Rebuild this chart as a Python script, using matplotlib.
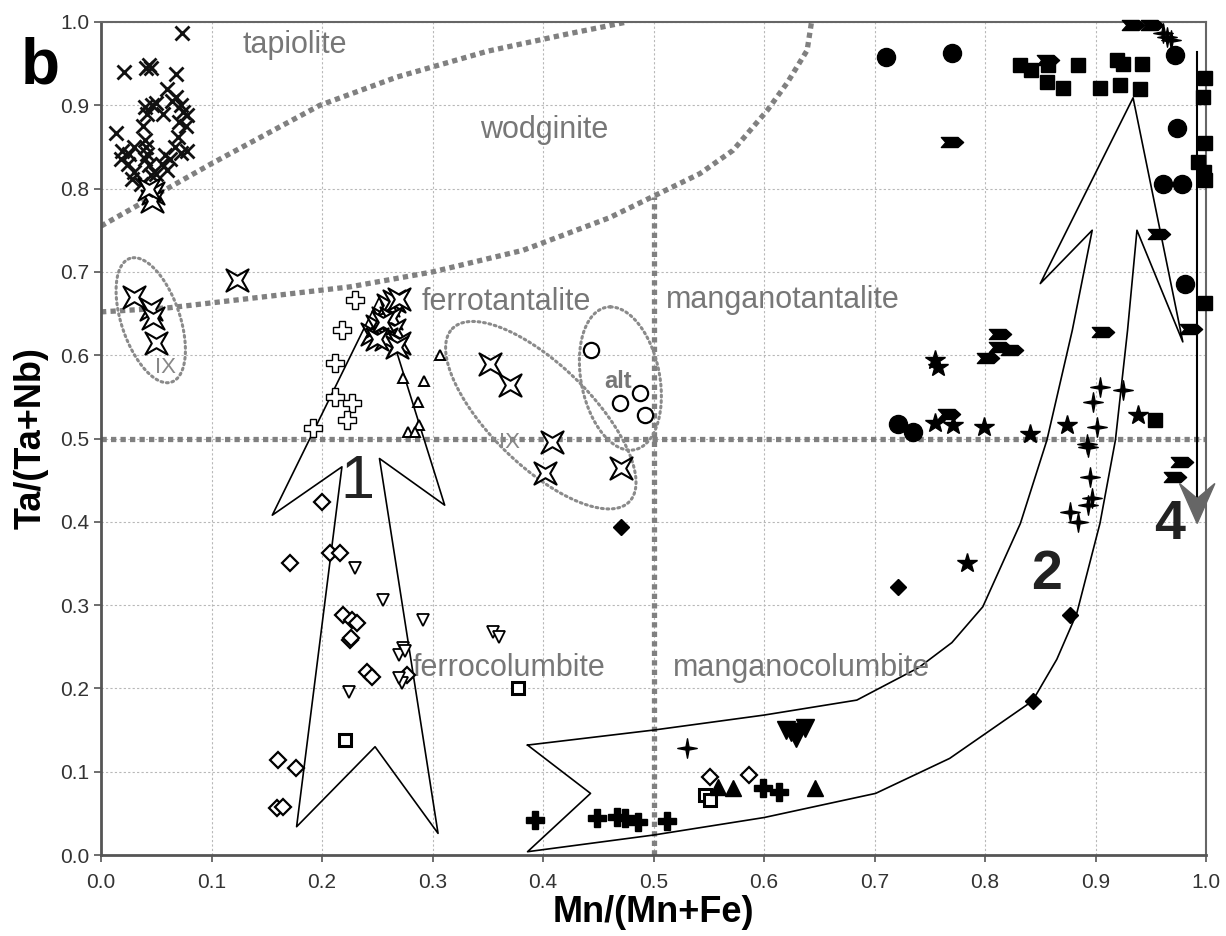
import numpy as np
import matplotlib
matplotlib.use('Agg')
import matplotlib.pyplot as plt
from matplotlib.path import Path

plt.rcParams['font.family'] = ['Liberation Sans', 'DejaVu Sans']

# ---------------- data (Mn/(Mn+Fe), Ta/(Ta+Nb)) ----------------
x_mark_x = [0.073, 0.021, 0.041, 0.045, 0.043, 0.068, 0.014, 0.019, 0.018, 0.024, 0.030, 0.028,
            0.036, 0.040, 0.042, 0.046, 0.050, 0.038, 0.040, 0.041, 0.042, 0.040, 0.043, 0.050,
            0.055, 0.058, 0.062, 0.056, 0.060, 0.064, 0.068, 0.072, 0.074, 0.078, 0.071, 0.077,
            0.070, 0.067, 0.072, 0.078, 0.060, 0.045, 0.030, 0.025]
x_mark_y = [0.987, 0.940, 0.945, 0.945, 0.948, 0.938, 0.867, 0.845, 0.835, 0.830, 0.820, 0.812,
            0.805, 0.898, 0.890, 0.900, 0.903, 0.875, 0.858, 0.850, 0.842, 0.835, 0.828, 0.818,
            0.830, 0.840, 0.835, 0.889, 0.920, 0.905, 0.910, 0.900, 0.892, 0.888, 0.880, 0.875,
            0.862, 0.850, 0.843, 0.845, 0.822, 0.816, 0.850, 0.842]

star4_x = [0.047, 0.046, 0.043, 0.030, 0.045, 0.047, 0.050, 0.123,
           0.245, 0.250, 0.255, 0.260, 0.265, 0.270, 0.262, 0.265, 0.258, 0.270, 0.268, 0.255, 0.250,
           0.352, 0.370, 0.408, 0.402, 0.471]
star4_y = [0.795, 0.785, 0.800, 0.670, 0.655, 0.645, 0.615, 0.690,
           0.625, 0.635, 0.645, 0.660, 0.665, 0.667, 0.645, 0.630, 0.620, 0.615, 0.610, 0.640, 0.620,
           0.590, 0.564, 0.496, 0.459, 0.465]

open_plus_x = [0.230, 0.218, 0.212, 0.212, 0.227, 0.223, 0.192]
open_plus_y = [0.666, 0.630, 0.591, 0.550, 0.543, 0.522, 0.513]

open_tri_x = [0.307, 0.273, 0.292, 0.287, 0.288, 0.278, 0.284]
open_tri_y = [0.600, 0.573, 0.569, 0.544, 0.516, 0.508, 0.508]

open_circ_x = [0.443, 0.488, 0.470, 0.492]
open_circ_y = [0.606, 0.555, 0.543, 0.528]

open_diam_x = [0.200, 0.171, 0.207, 0.216, 0.219, 0.227, 0.232, 0.225, 0.226, 0.241, 0.245,
               0.277, 0.160, 0.176, 0.159, 0.165, 0.551, 0.586]
open_diam_y = [0.424, 0.350, 0.362, 0.362, 0.288, 0.282, 0.278, 0.258, 0.260, 0.220, 0.214,
               0.216, 0.114, 0.104, 0.056, 0.058, 0.094, 0.096]

open_vtri_x = [0.230, 0.255, 0.291, 0.224, 0.355, 0.360, 0.273, 0.270, 0.275, 0.272, 0.270]
open_vtri_y = [0.345, 0.306, 0.282, 0.196, 0.268, 0.262, 0.249, 0.240, 0.245, 0.207, 0.212]

open_sq_x = [0.221, 0.377, 0.547, 0.551]
open_sq_y = [0.138, 0.200, 0.072, 0.066]

fill_plus_x = [0.393, 0.449, 0.467, 0.474, 0.486, 0.512, 0.599, 0.614]
fill_plus_y = [0.042, 0.044, 0.046, 0.044, 0.040, 0.041, 0.080, 0.076]

fill_tri_x = [0.558, 0.572, 0.646]
fill_tri_y = [0.082, 0.080, 0.080]

fill_vtri_x = [0.624, 0.631, 0.637, 0.629, 0.620]
fill_vtri_y = [0.148, 0.148, 0.152, 0.140, 0.150]

fill_circ_x = [0.710, 0.770, 0.972, 0.974, 0.961, 0.978, 0.981, 0.721, 0.735]
fill_circ_y = [0.958, 0.963, 0.960, 0.873, 0.805, 0.805, 0.686, 0.518, 0.508]

fill_sq_x = [0.832, 0.842, 0.857, 0.856, 0.871, 0.884, 0.904, 0.922, 0.940, 0.942, 0.919, 0.925,
             0.999, 0.997, 0.999, 0.993, 0.998, 0.999, 0.999, 0.954]
fill_sq_y = [0.948, 0.942, 0.948, 0.928, 0.921, 0.948, 0.921, 0.924, 0.919, 0.950, 0.954, 0.950,
             0.933, 0.910, 0.855, 0.832, 0.820, 0.810, 0.663, 0.522]

chev_x = [0.934, 0.951, 0.857, 0.770, 0.957, 0.986, 0.814, 0.907, 0.814, 0.824, 0.803, 0.767,
          0.978, 0.972]
chev_y = [0.996, 0.996, 0.954, 0.856, 0.746, 0.632, 0.626, 0.628, 0.610, 0.606, 0.597, 0.530,
          0.472, 0.454]

fill_star4_x = [0.530, 0.961, 0.965, 0.968, 0.904, 0.925, 0.898, 0.901, 0.892, 0.893, 0.895,
                0.897, 0.893, 0.877, 0.884]
fill_star4_y = [0.128, 0.987, 0.982, 0.978, 0.562, 0.558, 0.544, 0.514, 0.494, 0.490, 0.454,
                0.429, 0.420, 0.412, 0.400]

fill_star5_x = [0.755, 0.757, 0.755, 0.771, 0.799, 0.841, 0.874, 0.938, 0.784]
fill_star5_y = [0.594, 0.586, 0.519, 0.516, 0.514, 0.506, 0.516, 0.528, 0.350]

fill_diam_x = [0.471, 0.721, 0.877, 0.843]
fill_diam_y = [0.394, 0.322, 0.288, 0.185]

# field boundaries
upper_curve_x = [0.0, 0.10, 0.198, 0.268, 0.35, 0.42, 0.476]
upper_curve_y = [0.755, 0.83, 0.900, 0.934, 0.965, 0.985, 1.0]
lower_curve_x = [0.0, 0.062, 0.225, 0.30, 0.382, 0.46, 0.542, 0.572, 0.603, 0.621, 0.639, 0.643]
lower_curve_y = [0.652, 0.657, 0.682, 0.70, 0.726, 0.765, 0.818, 0.846, 0.894, 0.927, 0.966, 1.0]

# trend arrows
arrow1_x = [0.252, 0.311, 0.252, 0.305, 0.248, 0.177, 0.218, 0.155, 0.252]
arrow1_y = [0.670, 0.420, 0.476, 0.026, 0.130, 0.034, 0.466, 0.408, 0.670]
arrow2_x = [0.386, 0.500, 0.600, 0.684, 0.740, 0.770, 0.798, 0.832, 0.856, 0.879, 0.897,
            0.850, 0.934, 0.979, 0.9375,
            0.929, 0.918, 0.904, 0.883, 0.865, 0.843, 0.768, 0.701, 0.600, 0.500, 0.386,
            0.443, 0.386]
arrow2_y = [0.132, 0.150, 0.168, 0.186, 0.225, 0.255, 0.298, 0.398, 0.498, 0.630, 0.750,
            0.686, 0.909, 0.616, 0.750,
            0.630, 0.498, 0.398, 0.290, 0.235, 0.185, 0.116, 0.074, 0.045, 0.024, 0.004,
            0.074, 0.132]


def star_path(n, inner, rot):
    ang = np.linspace(0, 2 * np.pi, 2 * n, endpoint=False) + rot
    r = np.where(np.arange(2 * n) % 2 == 0, 1.0, inner)
    v = np.column_stack([r * np.cos(ang), r * np.sin(ang)])
    v = np.vstack([v, v[:1]])
    return Path(v, closed=True)


star4_open = star_path(4, 0.3, np.pi / 4)
star4_fill = star_path(4, 0.22, np.pi / 2)
chevron = Path([(-1, 0.45), (0.5, 0.45), (1, 0), (0.5, -0.45), (-1, -0.45), (-0.6, 0), (-1, 0.45)],
               closed=True)


def ellipse(cx, cy, axv, ayv, bxv, byv):
    t = np.linspace(0, 2 * np.pi, 300)
    return cx + axv * np.cos(t) + bxv * np.sin(t), cy + ayv * np.cos(t) + byv * np.sin(t)


fig = plt.figure(figsize=(12.26, 9.36), dpi=100)
ax = fig.add_axes([0.0824, 0.0865, 0.9013, 0.89])
ax.set_xlim(0, 1)
ax.set_ylim(0, 1)

ax.set_xticks(np.arange(0, 1.01, 0.1))
ax.set_yticks(np.arange(0, 1.01, 0.1))
ax.set_xticklabels(['%.1f' % v for v in np.arange(0, 1.01, 0.1)])
ax.set_yticklabels(['%.1f' % v for v in np.arange(0, 1.01, 0.1)])
ax.grid(True, color='#b8b8b8', linestyle=(0, (2, 2)), linewidth=0.8, zorder=0)
ax.set_axisbelow(True)
ax.tick_params(direction='out', length=5, width=1.2, color='#555555', labelsize=15,
               labelcolor='#333333')
ax.tick_params(axis='x', pad=8)
for s in ['left', 'bottom']:
    ax.spines[s].set_color('#555555')
    ax.spines[s].set_linewidth(2)
for s in ['top', 'right']:
    ax.spines[s].set_color('#666666')
    ax.spines[s].set_linewidth(1.5)

ax.set_xlabel('Mn/(Mn+Fe)', fontsize=26, fontweight='bold', labelpad=2)
ax.set_ylabel('Ta/(Ta+Nb)', fontsize=26, fontweight='bold', labelpad=8)
fig.text(0.017, 0.911, 'b', fontsize=46, fontweight='bold')

# boundaries
gray = '#808080'
bkw = dict(color=gray, linewidth=3.8, linestyle=(0, (1, 0.8)), zorder=2)
ax.plot([0, 1], [0.5, 0.5], **bkw)
ax.plot([0.5, 0.5], [0, 0.79], **bkw)
ax.plot(upper_curve_x, upper_curve_y, **bkw)
ax.plot(lower_curve_x, lower_curve_y, **bkw)

ekw = dict(color='#8a8a8a', linewidth=2.2, linestyle=(0, (0.6, 1.2)), dash_capstyle='round', zorder=2)
ex, ey = ellipse(0.045, 0.642, -0.016, 0.075, 0.027, 0.003)
ax.plot(ex, ey, **ekw)
ex, ey = ellipse(0.398, 0.528, -0.080, 0.104, 0.032, 0.043)
ax.plot(ex, ey, **ekw)
ex, ey = ellipse(0.470, 0.572, -0.009, 0.086, 0.036, 0.0)
ax.plot(ex, ey, **ekw)

# arrows
ax.plot(arrow1_x, arrow1_y, color='black', linewidth=1.2, zorder=3)
ax.plot(arrow2_x, arrow2_y, color='black', linewidth=1.2, zorder=3)
ax.plot([0.992, 0.992], [0.964, 0.43], color='black', linewidth=1.5, zorder=3)
ax.fill([0.992, 0.976, 0.992, 1.008], [0.398, 0.446, 0.428, 0.446], color='#666666',
        zorder=4, clip_on=False)

# region labels
tkw = dict(color='#777777', fontsize=22)
ax.text(0.128, 0.972, 'tapiolite', va='center', **tkw)
ax.text(0.343, 0.870, 'wodginite', va='center', **tkw)
ax.text(0.290, 0.664, 'ferrotantalite', va='center', **tkw)
ax.text(0.511, 0.666, 'manganotantalite', va='center', **tkw)
ax.text(0.282, 0.224, 'ferrocolumbite', va='center', **tkw)
ax.text(0.518, 0.224, 'manganocolumbite', va='center', **tkw)
ax.text(0.058, 0.585, 'IX', color='#888888', fontsize=16, ha='center', va='center')
ax.text(0.370, 0.495, 'IX', color='#888888', fontsize=16, ha='center', va='center')
ax.text(0.468, 0.568, 'alt', color='#777777', fontsize=17, fontweight='bold', ha='center', va='center')
ax.text(0.232, 0.447, '1', fontsize=44, ha='center', va='center', color='#222222')
ax.text(0.856, 0.336, '2', fontsize=40, fontweight='bold', ha='center', va='center', color='#222222')
ax.text(0.967, 0.396, '4', fontsize=40, fontweight='bold', ha='center', va='center', color='#222222')

# markers
okw = dict(linestyle='none', markerfacecolor='white', markeredgecolor='black', zorder=5, clip_on=False)
fkw = dict(linestyle='none', color='black', zorder=5, clip_on=False)
ax.plot(x_mark_x, x_mark_y, marker='x', markersize=10, markeredgewidth=2, color='#111111',
        linestyle='none', zorder=5)
ax.plot(star4_x, star4_y, marker=star4_open, markersize=16, markeredgewidth=1.5, **okw)
ax.plot(open_plus_x, open_plus_y, marker='P', markersize=13, markeredgewidth=1.0, **okw)
ax.plot(open_tri_x, open_tri_y, marker='^', markersize=7, markeredgewidth=1.4, **okw)
ax.plot(open_circ_x, open_circ_y, marker='o', markersize=11, markeredgewidth=1.6, **okw)
ax.plot(open_diam_x, open_diam_y, marker='D', markersize=8.5, markeredgewidth=1.6, **okw)
ax.plot(open_vtri_x, open_vtri_y, marker='v', markersize=9, markeredgewidth=1.3, **okw)
ax.plot(open_sq_x, open_sq_y, marker='s', markersize=8, markeredgewidth=2.2, **okw)
ax.plot(fill_plus_x, fill_plus_y, marker='P', markersize=13, **fkw)
ax.plot(fill_tri_x, fill_tri_y, marker='^', markersize=11, **fkw)
ax.plot(fill_vtri_x, fill_vtri_y, marker='v', markersize=13, **fkw)
ax.plot(fill_circ_x, fill_circ_y, marker='o', markersize=13, **fkw)
ax.plot(fill_sq_x, fill_sq_y, marker='s', markersize=10.5, **fkw)
ax.plot(chev_x, chev_y, marker=chevron, markersize=16, **fkw)
ax.plot(fill_star4_x, fill_star4_y, marker=star4_fill, markersize=14, **fkw)
ax.plot(fill_star5_x, fill_star5_y, marker='*', markersize=15, **fkw)
ax.plot(fill_diam_x, fill_diam_y, marker='D', markersize=8.5, **fkw)

fig.savefig('out.png', dpi=100)
